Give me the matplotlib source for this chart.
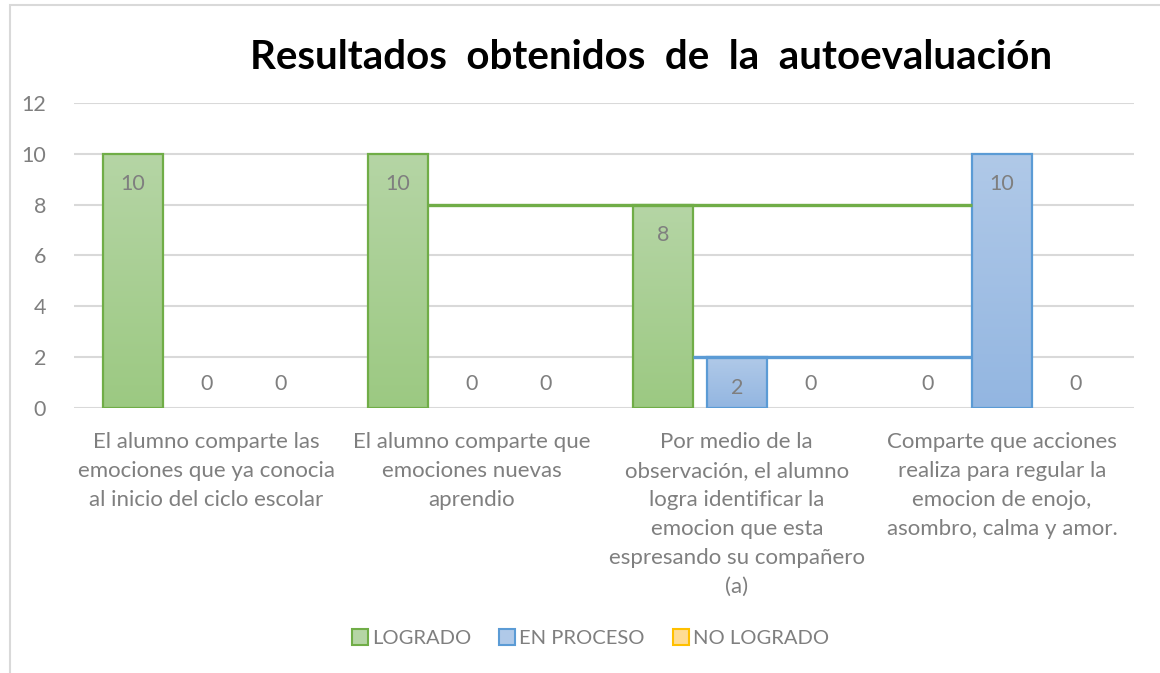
import numpy as np
import matplotlib.pyplot as plt
from matplotlib.patches import Rectangle
from matplotlib.colors import LinearSegmentedColormap

plt.rcParams['font.family'] = ['Lato', 'DejaVu Sans']

categorias = [
    "El alumno comparte las\nemociones que ya conocia\nal inicio del ciclo escolar",
    "El alumno comparte que\nemociones nuevas\naprendio",
    "Por medio de la\nobservación, el alumno\nlogra identificar la\nemocion que esta\nespresando su compañero\n(a)",
    "Comparte que acciones\nrealiza para regular la\nemocion de enojo,\nasombro, calma y amor.",
]
series = ["LOGRADO", "EN PROCESO", "NO LOGRADO"]
logrado = [10, 10, 8, 0]
en_proceso = [0, 0, 2, 10]
no_logrado = [0, 0, 0, 0]
valores = [logrado, en_proceso, no_logrado]

bordes = ["#70ad47", "#5b9bd5", "#ffc000"]
arriba = ["#b5d5a5", "#b0c9e8", "#ffdc94"]
abajo = ["#9cc982", "#93b6e1", "#ffd46e"]
gris = "#7f7f7f"

fig = plt.figure(figsize=(11.6, 6.73), dpi=100)
ax = fig.add_axes([0.0638, 0.3938, 0.9142, 0.4532])

x = np.arange(len(categorias))
ancho = 0.226
paso = 0.279

barras = []
for i, (nombre, vals) in enumerate(zip(series, valores)):
    pos = x + (i - 1) * paso
    b = ax.bar(pos, vals, ancho, color=arriba[i], edgecolor=bordes[i], lw=0,
               label=nombre, zorder=3)
    cmap = LinearSegmentedColormap.from_list("g%d" % i, [abajo[i], arriba[i]])
    grad = np.linspace(0, 1, 100).reshape(-1, 1)
    for r in b:
        if r.get_height() > 0:
            x0 = r.get_x()
            ax.imshow(grad, cmap=cmap, origin="lower", aspect="auto",
                      extent=(x0, x0 + r.get_width(), 0, r.get_height()), zorder=3.5)
            ax.add_patch(Rectangle((x0, 0), r.get_width(), r.get_height(), fill=False,
                                   edgecolor=bordes[i], lw=1.6, zorder=4))
    barras.append(b)
    for p, v in zip(pos, vals):
        yl = v - 1.2 if v > 0 else 0.95
        ax.text(p, yl, str(v), ha="center", va="center", color=gris, fontsize=15.5, zorder=5)

# lineas horizontales que aparecen en el grafico original
b_log, b_proc = barras[0], barras[1]
ax.plot([b_log[1].get_x() + ancho, b_proc[3].get_x()], [logrado[2], logrado[2]],
        color=bordes[0], lw=2.4, zorder=4, solid_capstyle="butt")
ax.plot([b_log[2].get_x() + ancho, b_proc[3].get_x()], [en_proceso[2], en_proceso[2]],
        color=bordes[1], lw=2.4, zorder=4, solid_capstyle="butt")

ax.set_xlim(-0.5, len(categorias) - 0.5)
ax.set_ylim(0, 12)
ax.set_yticks(range(0, 13, 2))
ax.grid(axis="y", color="#d9d9d9", lw=1.5, zorder=0)
ax.set_axisbelow(True)
for s in ax.spines.values():
    s.set_visible(False)
ax.tick_params(axis="both", length=0, colors=gris, labelsize=15.5)
ax.tick_params(axis="y", pad=20)
ax.set_xticks(x)
ax.set_xticklabels(categorias, linespacing=1.57, fontsize=16)
ax.tick_params(axis="x", pad=17)

fig.text(0.561, 0.915, "Resultados  obtenidos  de  la  autoevaluación",
         ha="center", va="center", fontsize=29, fontweight="bold", color="black")

leg = fig.legend(handles=barras, loc="center", bbox_to_anchor=(0.509, 0.052), ncol=3,
                 frameon=False, fontsize=14.5, handlelength=0.8, handleheight=0.8,
                 handletextpad=0.2, columnspacing=1.4)
for t in leg.get_texts():
    t.set_color(gris)
for h, c in zip(leg.legend_handles, bordes):
    h.set_edgecolor(c)
    h.set_linewidth(1.5)

fig.patches.append(Rectangle((10 / 1160, -0.1), 1.2, 1 - 5 / 673 + 0.1, transform=fig.transFigure,
                             fill=False, edgecolor="#d9d9d9", lw=1.5))

fig.savefig("out.png", dpi=100)
